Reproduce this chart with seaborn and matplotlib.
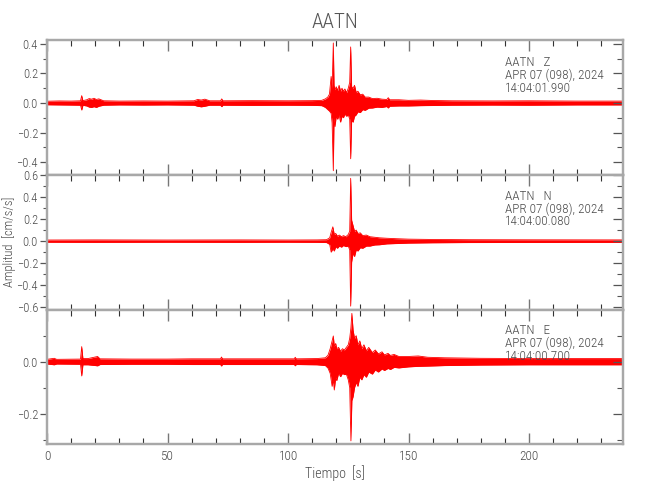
import matplotlib
matplotlib.use("Agg")
import matplotlib.pyplot as plt
import seaborn as sns
import pandas as pd
from matplotlib.ticker import MultipleLocator

# ---------------- data ----------------
station = "AATN"
components = ["Z", "N", "E"]
date_label = "APR 07 (098), 2024"
start_times = ["14:04:01.990", "14:04:00.080", "14:04:00.700"]
x_label = "Tiempo  [s]"
y_label = "Amplitud  [cm/s/s]"

# Envelope (upper / lower peaks) of each trace, read at breakpoints (s, cm/s/s)
z_time = [0, 5, 10, 13.9, 14.4, 14.9, 16.5, 17.5, 18.5, 19.5, 20.5, 21.5, 23.5, 30, 40, 50,
          61, 62.5, 64, 65.5, 67.5, 72, 72.5, 73, 85, 100, 110, 114, 115.5, 116.5, 117.2,
          117.9, 118.3, 118.8, 119.1, 119.5, 120.0, 120.6, 121.2, 121.8, 122.4, 123.0,
          123.6, 124.3, 125.0, 125.6, 126.0, 126.4, 127.0, 127.6, 128.3, 129.0, 130.0,
          131.0, 132.0, 133.5, 135.0, 137.0, 139.0, 141.0, 141.6, 142.2, 146.0, 150.0,
          155.0, 160.0, 168.0, 185.0, 200.0, 220.0, 239.0]
z_upper = [.012, .014, .013, .015, .050, .016, .022, .030, .026, .032, .024, .028, .015, .013,
           .014, .013, .015, .024, .020, .026, .015, .015, .028, .015, .016, .015, .016, .018,
           .028, .040, .060, .180, .100, .407, .120, .090, .110, .085, .120, .080, .100, .080,
           .095, .070, .100, .140, .380, .110, .100, .120, .070, .080, .055, .060, .040, .040,
           .030, .032, .026, .024, .036, .022, .022, .018, .020, .017, .015, .014, .015, .013,
           .013]
z_lower = [-.012, -.013, -.014, -.015, -.048, -.016, -.020, -.028, -.030, -.025, -.030, -.022,
           -.015, -.013, -.014, -.013, -.015, -.022, -.026, -.022, -.015, -.015, -.025, -.015,
           -.016, -.015, -.016, -.018, -.030, -.045, -.055, -.070, -.135, -.459, -.100, -.160,
           -.090, -.110, -.080, -.130, -.090, -.100, -.075, -.090, -.080, -.110, -.378, -.120,
           -.130, -.090, -.080, -.060, -.065, -.045, -.050, -.035, -.034, -.028, -.030, -.024,
           -.034, -.022, -.020, -.020, -.018, -.017, -.015, -.014, -.015, -.013, -.013]

n_time = [0, 20, 50, 80, 100, 112, 116, 117.3, 117.9, 118.6, 119.2, 119.8, 120.5, 121.3,
          122.2, 123.0, 124.0, 125.0, 125.6, 126.0, 126.4, 127.0, 127.6, 128.3, 129.0, 130.0,
          131.0, 132.5, 134.0, 136.0, 138.0, 141.0, 145.0, 150.0, 160.0, 175.0, 200.0, 239.0]
n_upper = [.010, .011, .010, .011, .010, .011, .013, .030, .080, .130, .060, .070, .045, .055,
           .040, .050, .040, .060, .090, .570, .190, .140, .090, .100, .070, .075, .050, .055,
           .040, .035, .030, .026, .022, .018, .015, .013, .012, .011]
n_lower = [-.010, -.011, -.010, -.011, -.010, -.011, -.013, -.030, -.100, -.070, -.090, -.050,
           -.065, -.045, -.055, -.040, -.050, -.045, -.080, -.590, -.190, -.110, -.140, -.080,
           -.090, -.060, -.065, -.045, -.045, -.035, -.033, -.025, -.022, -.018, -.015, -.013,
           -.012, -.011]

e_time = [0, 3, 4, 13.9, 14.4, 14.9, 17, 21, 22, 35, 50, 60, 72, 72.4, 72.8, 90, 102.6, 103,
          103.4, 112, 115.5, 116.6, 117.5, 118.3, 118.8, 119.2, 119.8, 120.2, 121.0, 121.8,
          122.6, 123.4, 124.2, 125.0, 125.6, 126.1, 126.5, 127.0, 127.6, 128.3, 129.0, 129.8,
          130.6, 131.5, 132.5, 133.5, 135.0, 136.2, 137.5, 139.0, 140.0, 141.5, 142.5, 144.0,
          146.0, 150.0, 154.0, 158.0, 165.0, 180.0, 200.0, 220.0, 239.0]
e_upper = [.009, .013, .009, .010, .058, .012, .012, .020, .011, .010, .010, .011, .011, .018,
           .011, .011, .011, .017, .011, .012, .015, .025, .050, .080, .099, .060, .070, .050,
           .055, .040, .050, .045, .055, .065, .090, .130, .186, .122, .090, .100, .065, .080,
           .050, .065, .042, .055, .035, .045, .030, .038, .026, .032, .024, .028, .020, .020,
           .022, .017, .015, .013, .012, .012, .012]
e_lower = [-.009, -.012, -.009, -.010, -.055, -.012, -.012, -.016, -.011, -.010, -.010, -.011,
           -.011, -.017, -.011, -.011, -.011, -.016, -.011, -.012, -.015, -.025, -.045, -.095,
           -.070, -.109, -.060, -.073, -.045, -.058, -.045, -.050, -.048, -.070, -.100, -.305,
           -.150, -.135, -.100, -.080, -.095, -.060, -.070, -.050, -.060, -.040, -.048, -.032,
           -.040, -.028, -.034, -.026, -.030, -.022, -.024, -.020, -.018, -.017, -.015, -.013,
           -.012, -.012, -.012]

y_limits = [(-0.488, 0.427), (-0.625, 0.600), (-0.317, 0.199)]
x_limits = (0, 239)

# ---------------- styling ----------------
sns.set_theme(style="white")
plt.rcParams["font.family"] = ["Roboto Condensed", "Roboto", "DejaVu Sans"]
plt.rcParams["font.weight"] = "light"
txt = "#4a4a4a"
spine_c = "#a8a8a8"

fig = plt.figure(figsize=(6.5, 5.0), dpi=100)
left, width = 47 / 650, 576 / 650
bottoms = [1 - 175 / 500, 1 - 310 / 500, 1 - 444 / 500]
heights = [135 / 500, 135 / 500, 134 / 500]

traces = [(z_time, z_upper, z_lower), (n_time, n_upper, n_lower), (e_time, e_upper, e_lower)]
text_y = [(0.837, 0.740, 0.644), (0.844, 0.748, 0.652), (0.850, 0.748, 0.650)]

axes = []
for i, (comp, (tt, up, lo)) in enumerate(zip(components, traces)):
    ax = fig.add_axes([left, bottoms[i], width, heights[i]])
    axes.append(ax)
    df = pd.DataFrame({"t": tt, "up": up, "lo": lo})
    ax.fill_between(df["t"], df["lo"], df["up"], color="#ff0000", lw=0)
    sns.lineplot(data=df, x="t", y="up", ax=ax, color="#ff0000", lw=0.6)
    sns.lineplot(data=df, x="t", y="lo", ax=ax, color="#ff0000", lw=0.6)
    ax.set_xlim(*x_limits)
    ax.set_ylim(*y_limits[i])
    ax.set_xlabel("")
    ax.set_ylabel("")

    for s in ax.spines.values():
        s.set_color(spine_c)
        s.set_linewidth(1.6)
        s.set_visible(True)

    ax.xaxis.set_major_locator(MultipleLocator(50))
    ax.xaxis.set_minor_locator(MultipleLocator(10))
    ax.yaxis.set_major_locator(MultipleLocator(0.2))
    ax.yaxis.set_minor_locator(MultipleLocator(0.1))
    ax.tick_params(axis="x", which="major", direction="in", top=True, bottom=True,
                   length=8, width=1.0, color="#777777", labelsize=9.5, labelcolor=txt, pad=4)
    ax.tick_params(axis="x", which="minor", direction="in", top=True, bottom=True,
                   length=4, width=0.8, color="#333333")
    ax.tick_params(axis="y", which="major", direction="out", left=True, right=False,
                   length=5, width=0.9, color="#555555", labelsize=9, labelcolor=txt, pad=1.5)
    ax.tick_params(axis="y", which="minor", direction="out", left=True, right=False,
                   length=3, width=0.8, color="#555555")
    if i < 2:
        ax.tick_params(axis="x", labelbottom=False)

    # right-hand inward ticks
    ax2 = ax.twinx()
    ax2.set_ylim(*y_limits[i])
    ax2.yaxis.set_major_locator(MultipleLocator(0.2))
    ax2.yaxis.set_minor_locator(MultipleLocator(0.1))
    ax2.tick_params(axis="y", which="major", direction="in", right=True, length=7,
                    width=0.9, color="#555555", labelright=False)
    ax2.tick_params(axis="y", which="minor", direction="in", right=True, length=4,
                    width=0.8, color="#555555")
    for s in ax2.spines.values():
        s.set_color(spine_c)
        s.set_linewidth(1.6)
    ax2.grid(False)

    lines = [f"{station}   {comp}", date_label, start_times[i]]
    for ln, yy in zip(lines, text_y[i]):
        ax.text(0.795, yy, ln, transform=ax.transAxes, ha="left", va="center",
                fontsize=9.5, color=txt, fontweight="light")

axes[0].set_title(station, fontsize=15, color="#555555", pad=9, fontweight="light")
axes[2].set_xlabel(x_label, fontsize=10, color=txt, labelpad=2, fontweight="light")
fig.text(9 / 650, 1 - 242 / 500, y_label, rotation=90, ha="center", va="center",
         fontsize=9, color=txt, fontweight="light")

fig.savefig("out.png", dpi=100)
